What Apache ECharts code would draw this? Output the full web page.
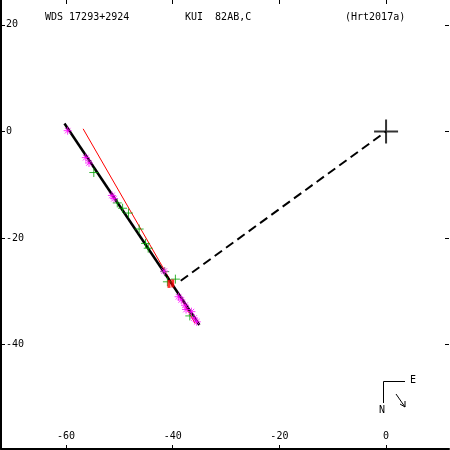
<!DOCTYPE html>
<html>
<head>
<meta charset="utf-8">
<script src="https://cdn.jsdelivr.net/npm/echarts@6/dist/echarts.min.js"></script>
<style>html,body{margin:0;padding:0;background:#fff}#c{width:450px;height:450px}</style>
</head>
<body>
<div id="c"></div>
<script>
// ---- data ----
const xTicks = [-60, -40, -20, 0];
const yTicks = [20, 0, -20, -40];
const magentaX = [-59.7, -56.3, -55.7, -51.4, -51.0, -41.6, -38.9, -38.4, -37.7, -37.5, -36.5, -36.0, -35.5];
const magentaY = [0.15, -4.9, -5.9, -12.0, -12.6, -26.2, -31.0, -31.6, -32.6, -33.4, -33.8, -35.0, -35.7];
const greenX = [-54.8, -50.4, -49.4, -48.3, -46.3, -45.1, -44.6, -41.5, -41.0, -39.5, -36.8];
const greenY = [-7.7, -13.4, -14.4, -15.3, -18.3, -21.0, -21.9, -26.3, -28.2, -27.7, -34.6];
const redX = [-40.7, -40.0];
const redY = [-28.6, -28.5];
const orbitX = [-60.3, -35.0];
const orbitY = [1.5, -36.3];
const fitX = [-56.8, -35.8];
const fitY = [0.5, -36.0];
const sepX = [-38.5, 0];
const sepY = [-28.0, 0];
const primaryX = [0];
const primaryY = [0];
const titleLeft = 'WDS 17293+2924';
const titleMid = 'KUI  82AB,C';
const titleRight = '(Hrt2017a)';

const zip = (a, b) => a.map((v, i) => [v, b[i]]);
const font = 'DejaVu Sans Mono';
const star = 'path://M0,-10L0,10M-10,0L10,0M-7,-7L7,7M-7,7L7,-7';
const plus = 'path://M0,-10L0,10M-10,0L10,0';

const chart = echarts.init(document.getElementById('c'), null, {renderer: 'canvas'});
const baseX = {type: 'value', min: -72.2, max: 11.8, splitLine: {show: false}};
const baseY = {type: 'value', min: -59.57, max: 24.67, splitLine: {show: false}};
const tStyle = {fontFamily: font, fontSize: 10, fontWeight: 'normal', color: '#000'};
chart.setOption({
  animation: false,
  backgroundColor: '#fff',
  grid: {left: 1, top: 0, right: 1, bottom: 1, containLabel: false},
  title: [
    {text: titleLeft, left: 45, top: 12, padding: 0, textStyle: tStyle},
    {text: titleMid, left: 185, top: 12, padding: 0, textStyle: tStyle},
    {text: titleRight, left: 345, top: 12, padding: 0, textStyle: tStyle}
  ],
  xAxis: [
    Object.assign({}, baseX, {position: 'bottom',
      axisLine: {show: true, onZero: false, lineStyle: {color: '#000', width: 2}},
      axisTick: {show: true, inside: true, length: 4, customValues: xTicks, lineStyle: {color: '#000'}},
      axisLabel: {show: true, inside: true, margin: 8, customValues: xTicks, fontFamily: font, fontSize: 10, color: '#000'}}),
    Object.assign({}, baseX, {position: 'top',
      axisLine: {show: false, onZero: false},
      axisTick: {show: true, inside: true, length: 4, customValues: xTicks, lineStyle: {color: '#000'}},
      axisLabel: {show: false}})
  ],
  yAxis: [
    Object.assign({}, baseY, {position: 'left',
      axisLine: {show: true, onZero: false, lineStyle: {color: '#000', width: 2}},
      axisTick: {show: true, inside: true, length: 4, customValues: yTicks, lineStyle: {color: '#000'}},
      axisLabel: {show: true, inside: true, margin: 5, customValues: yTicks, fontFamily: font, fontSize: 10, color: '#000'}}),
    Object.assign({}, baseY, {position: 'right',
      axisLine: {show: false, onZero: false},
      axisTick: {show: true, inside: true, length: 4, customValues: yTicks, lineStyle: {color: '#000'}},
      axisLabel: {show: false}})
  ],
  series: [
    {type: 'line', data: zip(fitX, fitY), symbol: 'none', lineStyle: {color: '#ff0000', width: 1}, z: 2},
    {type: 'line', data: zip(sepX, sepY), symbol: 'none', lineStyle: {color: '#000', width: 2, type: [9, 5]}, z: 2},
    {type: 'line', data: zip(orbitX, orbitY), symbol: 'none', lineStyle: {color: '#000', width: 2.5}, z: 3},
    {type: 'scatter', data: zip(greenX, greenY), symbol: plus, symbolSize: 9,
      itemStyle: {color: 'rgba(0,0,0,0)', borderColor: '#00a000', borderWidth: 1}, z: 4},
    {type: 'scatter', data: zip(magentaX, magentaY), symbol: star, symbolSize: 8,
      itemStyle: {color: 'rgba(0,0,0,0)', borderColor: '#ff00ff', borderWidth: 1}, z: 5},
    {type: 'scatter', data: zip(redX, redY), symbol: 'rect', symbolSize: [3, 8],
      itemStyle: {color: '#ff0000'}, z: 6},
    {type: 'scatter', data: zip(primaryX, primaryY), symbol: plus, symbolSize: 24,
      itemStyle: {color: 'rgba(0,0,0,0)', borderColor: '#000', borderWidth: 2}, z: 7}
  ],
  graphic: [
    {type: 'polyline', shape: {points: [[405, 381.5], [383.5, 381.5], [383.5, 403]]}, style: {stroke: '#000', lineWidth: 1, fill: null}},
    {type: 'text', x: 410, y: 375, style: {text: 'E', font: '10px ' + font, fill: '#000'}},
    {type: 'text', x: 379, y: 405, style: {text: 'N', font: '10px ' + font, fill: '#000'}},
    {type: 'polyline', shape: {points: [[396, 394], [405, 407]]}, style: {stroke: '#000', lineWidth: 1, fill: null}},
    {type: 'polyline', shape: {points: [[400, 404], [405, 407], [405, 401]]}, style: {stroke: '#000', lineWidth: 1, fill: null}}
  ]
});
</script>
</body>
</html>
